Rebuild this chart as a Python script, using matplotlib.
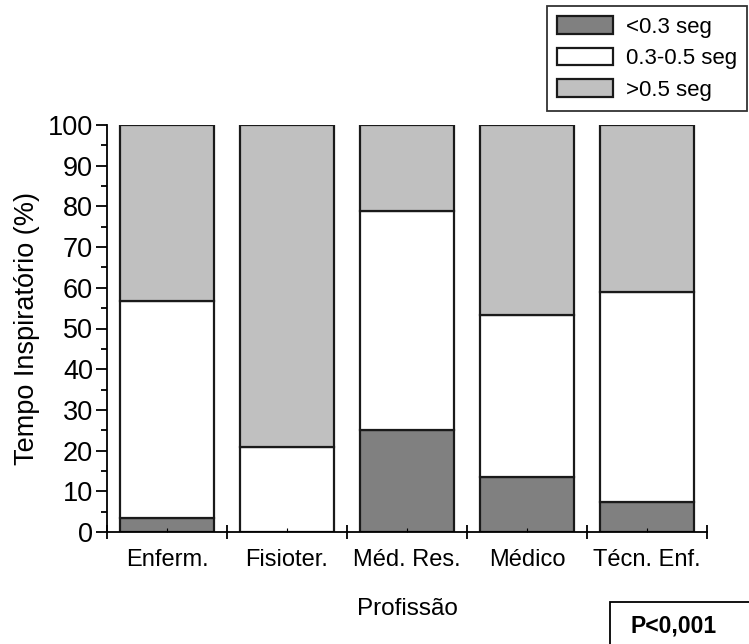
import matplotlib
matplotlib.use("Agg")
import matplotlib.pyplot as plt
from matplotlib.patches import Rectangle
from matplotlib.ticker import MultipleLocator, FixedLocator
import numpy as np

plt.rcParams['font.family'] = ['Liberation Sans', 'DejaVu Sans']

profissoes = ["Enferm.", "Fisioter.", "Méd. Res.", "Médico", "Técn. Enf."]
menor_03 = [3.4, 0.0, 25.0, 13.4, 7.3]
entre_03_05 = [53.3, 21.0, 53.8, 40.0, 51.7]
maior_05 = [43.3, 79.0, 21.2, 46.6, 41.0]
rotulos = ["<0.3 seg", "0.3-0.5 seg", ">0.5 seg"]
cores = ["#808080", "#ffffff", "#c0c0c0"]

fig = plt.figure(figsize=(7.49, 6.44), dpi=100)
ax = fig.add_axes([107 / 749, 112 / 644, 600 / 749, 407 / 644])

x = np.arange(len(profissoes))
base = np.zeros(len(profissoes))
for valores, rotulo, cor in zip([menor_03, entre_03_05, maior_05], rotulos, cores):
    ax.bar(x, valores, bottom=base, width=0.79, color=cor, edgecolor="#1a1a1a",
           linewidth=1.6, label=rotulo)
    base = base + np.array(valores)

ax.set_xlim(-0.5, len(profissoes) - 0.5)
ax.set_ylim(0, 100)
ax.spines['top'].set_visible(False)
ax.spines['right'].set_visible(False)
ax.spines['left'].set_linewidth(1.3)
ax.spines['bottom'].set_linewidth(1.3)

ax.yaxis.set_major_locator(MultipleLocator(10))
ax.yaxis.set_minor_locator(MultipleLocator(5))
ax.tick_params(axis='y', which='major', length=8, width=1.3, labelsize=19.5, pad=2)
ax.tick_params(axis='y', which='minor', length=4, width=1.3)

# x: major ticks at category borders, labels at centers
ax.xaxis.set_major_locator(FixedLocator(np.arange(-0.5, len(profissoes), 1.0)))
ax.set_xticklabels([])
ax.tick_params(axis='x', which='major', direction='inout', length=10, width=1.3)
ax.set_xticks(x, profissoes, minor=True)
ax.tick_params(axis='x', which='minor', direction='in', length=3, width=0.8,
               labelsize=17, pad=12)

ax.set_xlabel("Profissão", fontsize=17.5, labelpad=20)
ax.set_ylabel("Tempo Inspiratório (%)", fontsize=19.5, labelpad=6)

leg = fig.legend(loc="upper right", bbox_to_anchor=(747 / 749, 638 / 644),
                 fontsize=16, frameon=True, fancybox=False, handlelength=2.5,
                 handleheight=0.85, labelspacing=0.45, borderpad=0.45, handletextpad=0.6,
                 borderaxespad=0)
leg.get_frame().set_edgecolor("black")
leg.get_frame().set_linewidth(1.3)

fig.patches.append(Rectangle((610 / 749, -0.05), 0.3, 0.05 + 42 / 644,
                             transform=fig.transFigure, facecolor="white",
                             edgecolor="black", linewidth=1.3))
fig.text(674 / 749, 18 / 644, "P<0,001", fontsize=16.5, fontweight="bold",
         ha="center", va="center")

fig.savefig("out.png", dpi=100)
